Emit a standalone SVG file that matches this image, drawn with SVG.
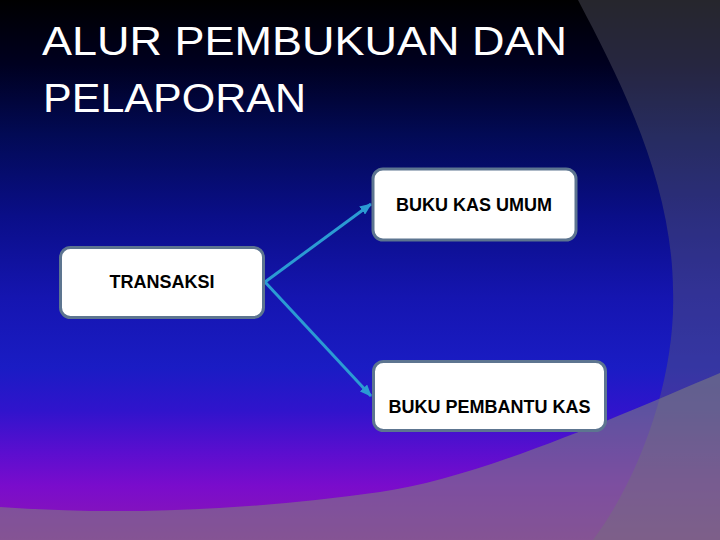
<svg xmlns="http://www.w3.org/2000/svg" width="720" height="540" viewBox="0 0 720 540">
  <defs>
    <linearGradient id="bg" x1="0" y1="0" x2="0" y2="1">
      <stop offset="0" stop-color="#000000"/>
      <stop offset="0.12" stop-color="#000020"/>
      <stop offset="0.25" stop-color="#020a55"/>
      <stop offset="0.4" stop-color="#0a0e88"/>
      <stop offset="0.55" stop-color="#1515b0"/>
      <stop offset="0.68" stop-color="#1a1cc4"/>
      <stop offset="0.76" stop-color="#3014cc"/>
      <stop offset="0.84" stop-color="#5c0ecf"/>
      <stop offset="0.9" stop-color="#7a0ccc"/>
      <stop offset="1" stop-color="#8c18b0"/>
    </linearGradient>
    <marker id="arrow" markerUnits="userSpaceOnUse" markerWidth="12" markerHeight="10" refX="11" refY="5" orient="auto">
      <path d="M0,0 L12,5 L0,10 Z" fill="#2b9bd3"/>
    </marker>
    <style>
      .title { font-family: "Liberation Sans", Arial, sans-serif; font-size: 41px; fill: #ffffff; }
      .box { fill: #ffffff; stroke: #5d7590; stroke-width: 3; }
      .label { font-family: "Liberation Sans", Arial, sans-serif; font-size: 18px; font-weight: bold; fill: #000000; text-anchor: middle; }
      .conn { stroke: #2b9bd3; stroke-width: 3; fill: none; }
    </style>
  </defs>

  <g id="background">
    <rect x="0" y="0" width="720" height="540" fill="url(#bg)"/>
    <path d="M578,0 C620,80 672,180 673,290 C676,370 645,470 593,540 L720,540 L720,0 Z" fill="#606070" fill-opacity="0.4"/>
    <path d="M0,507 Q180,520 380,492 C480,478 620,415 720,373 L720,540 L0,540 Z" fill="#808080" fill-opacity="0.58"/>
  </g>

  <g id="title">
    <text class="title" x="42" y="55" textLength="525" lengthAdjust="spacingAndGlyphs">ALUR PEMBUKUAN DAN</text>
    <text class="title" x="43" y="112" textLength="263" lengthAdjust="spacingAndGlyphs">PELAPORAN</text>
  </g>

  <g id="connectors">
    <line class="conn" x1="265" y1="282" x2="371" y2="204" marker-end="url(#arrow)"/>
    <line class="conn" x1="265" y1="282" x2="371" y2="396" marker-end="url(#arrow)"/>
  </g>

  <g id="node-transaksi">
    <rect class="box" x="60.5" y="247.5" width="203" height="70" rx="10" ry="10"/>
    <text class="label" x="162" y="288">TRANSAKSI</text>
  </g>

  <g id="node-buku-kas-umum">
    <rect class="box" x="373" y="169" width="203" height="71" rx="10" ry="10"/>
    <text class="label" x="474" y="211">BUKU KAS UMUM</text>
  </g>

  <g id="node-buku-pembantu-kas">
    <rect class="box" x="373.5" y="361.5" width="232" height="69" rx="10" ry="10"/>
    <text class="label" x="489.5" y="413">BUKU PEMBANTU KAS</text>
  </g>
</svg>
